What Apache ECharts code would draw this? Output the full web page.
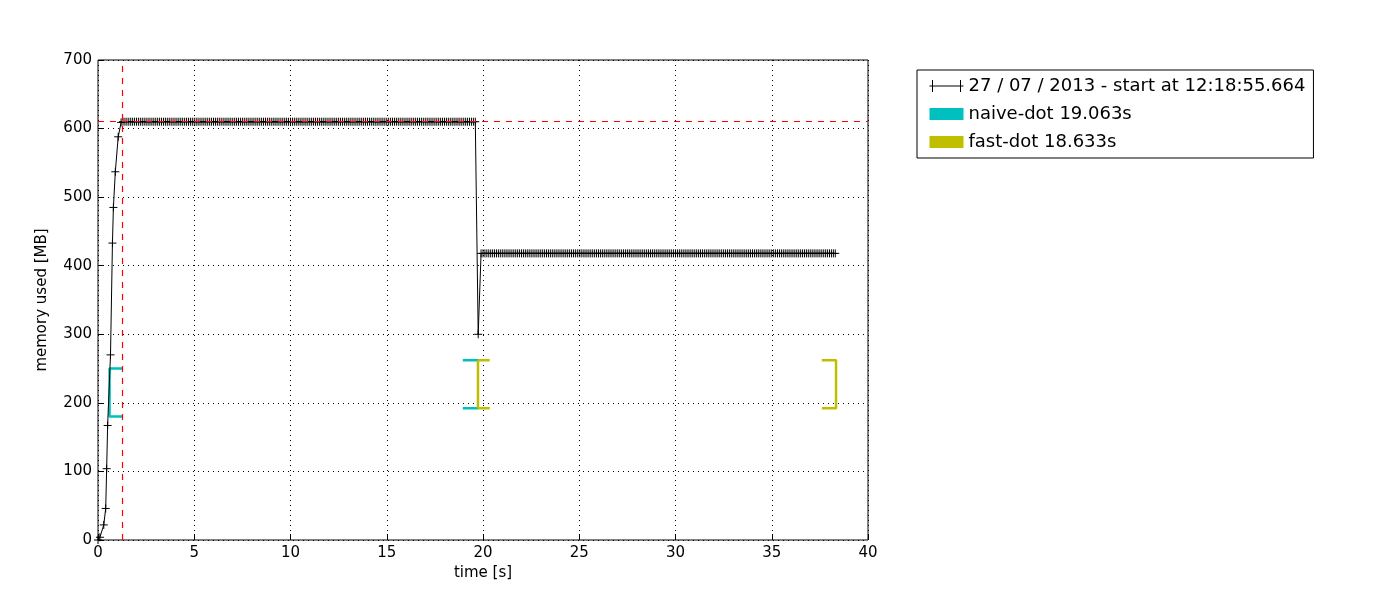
<!DOCTYPE html>
<html><head><meta charset="utf-8">
<script src="https://cdn.jsdelivr.net/npm/echarts@6/dist/echarts.min.js"></script>
<style>body{margin:0;background:#fff}#c{width:1400px;height:600px}</style></head>
<body><div id="c"></div>
<script>
// ramp-up samples [time s, MB]
const rampTimes = [0.0, 0.1, 0.3, 0.4, 0.45, 0.5, 0.65, 0.75, 0.8, 0.9, 1.05, 1.2];
const rampValues = [0, 4, 22, 46, 104, 167, 270, 433, 485, 537, 588, 609];
const plateau1 = {start: 1.3, end: 19.6, value: 610};
const dropTimes = [19.75];
const dropValues = [300];
const plateau2 = {start: 19.9, end: 38.3, value: 418};
const sampleStep = 0.1;
const peakLine = 610;
const peakTime = 1.25;
const naiveDot = [[[1.3, 250], [0.6, 250], [0.6, 180], [1.3, 180]], [[18.95, 262], [19.74, 262]], [[18.95, 192], [19.74, 192]]];
const fastDot = [[[19.74, 262], [20.35, 262], [20.35, 262]], [[19.74, 262], [19.74, 192]], [[19.74, 192], [20.35, 192]], [[37.6, 262], [38.34, 262], [38.34, 192], [37.6, 192]]];
const legendNames = ['27 / 07 / 2013 - start at 12:18:55.664', 'naive-dot 19.063s', 'fast-dot 18.633s'];

const mem = rampTimes.map((t, i) => [t, rampValues[i]]);
for (let t = plateau1.start; t <= plateau1.end + 1e-9; t += sampleStep) mem.push([+t.toFixed(2), plateau1.value]);
dropTimes.forEach((t, i) => mem.push([t, dropValues[i]]));
for (let t = plateau2.start; t <= plateau2.end + 1e-9; t += sampleStep) mem.push([+t.toFixed(2), plateau2.value]);

function segs(list, name, color) {
  return list.map((pts, i) => ({
    name: name, type: 'line', data: pts, symbol: 'none', silent: true,
    lineStyle: {color: color, width: 2.5}, itemStyle: {color: color}, z: 3
  }));
}
const font = 'DejaVu Sans';
const chart = echarts.init(document.getElementById('c'));
chart.setOption({
  animation: false,
  textStyle: {fontFamily: font},
  grid: {left: 98, top: 60, width: 770, height: 480, show: true, borderColor: '#000', borderWidth: 1},
  legend: {
    left: 917, top: 70, width: 445, orient: 'vertical', itemWidth: 34, itemHeight: 12, itemGap: 10,
    padding: [7, 8, 7, 10], borderColor: '#000', borderWidth: 1, borderRadius: 0,
    textStyle: {fontSize: 18, fontFamily: font, color: '#000'},
    data: [
      {name: legendNames[0], icon: 'path://M0,6L34,6M3,0L3,12M31,0L31,12', itemStyle: {color: 'none', borderColor: '#000', borderWidth: 1}},
      {name: legendNames[1], icon: 'rect'},
      {name: legendNames[2], icon: 'rect'}
    ]
  },
  xAxis: {
    type: 'value', min: 0, max: 40, interval: 5, name: 'time [s]', nameLocation: 'middle', nameGap: 24,
    nameTextStyle: {fontSize: 15, color: '#000'},
    axisLine: {show: false}, axisTick: {inside: true, length: 6, lineStyle: {color: '#000'}},
    axisLabel: {fontSize: 15, color: '#000', margin: 6},
    splitLine: {lineStyle: {color: '#000', type: [1, 4], width: 1}}
  },
  yAxis: {
    type: 'value', min: 0, max: 700, interval: 100, name: 'memory used [MB]', nameLocation: 'middle', nameGap: 48,
    nameTextStyle: {fontSize: 15, color: '#000'},
    axisLine: {show: false}, axisTick: {inside: true, length: 6, lineStyle: {color: '#000'}},
    axisLabel: {fontSize: 15, color: '#000', margin: 6},
    splitLine: {lineStyle: {color: '#000', type: [1, 4], width: 1}}
  },
  series: [
    {
      name: legendNames[0], type: 'line', data: mem, z: 4,
      symbol: 'path://M0,5L10,5M5,0L5,10', symbolSize: 8,
      itemStyle: {color: 'none', borderColor: '#000', borderWidth: 1},
      lineStyle: {color: '#000', width: 1},
      markLine: {
        silent: true, symbol: 'none', label: {show: false},
        lineStyle: {color: '#ff0000', type: [6, 6], width: 1.2},
        data: [{yAxis: peakLine}, {xAxis: peakTime}]
      }
    },
    {name: legendNames[1], type: 'line', data: [], itemStyle: {color: '#00bfbf'}, lineStyle: {color: '#00bfbf', width: 2.5}},
    {name: legendNames[2], type: 'line', data: [], itemStyle: {color: '#bfbf00'}, lineStyle: {color: '#bfbf00', width: 2.5}},
    ...segs(naiveDot, legendNames[1], '#00bfbf'),
    ...segs(fastDot, legendNames[2], '#bfbf00')
  ]
});
</script></body></html>
